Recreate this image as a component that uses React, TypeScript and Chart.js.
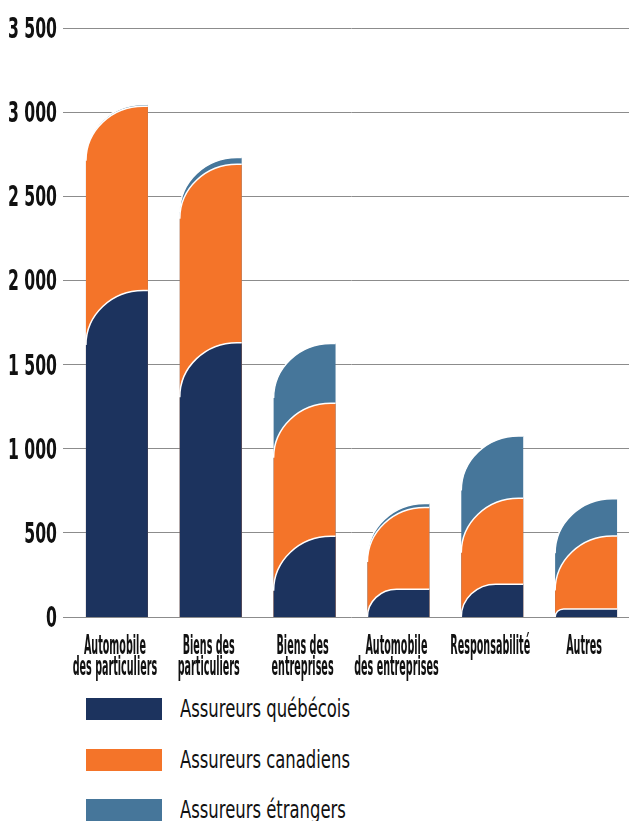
import React, { useEffect, useRef } from 'react';
import { Chart, registerables } from 'chart.js';

Chart.register(...registerables);

const categories: string[][] = [
  ['Automobile', 'des particuliers'],
  ['Biens des', 'particuliers'],
  ['Biens des', 'entreprises'],
  ['Automobile', 'des entreprises'],
  ['Responsabilité'],
  ['Autres'],
];
const quebecois = [1940, 1630, 480, 165, 195, 48];
const canadiens = [1095, 1060, 790, 485, 510, 433];
const etrangers = [10, 40, 355, 25, 370, 222];
const seriesNames = ['Assureurs québécois', 'Assureurs canadiens', 'Assureurs étrangers'];
const seriesColors = ['#1c335e', '#f47429', '#46769a'];
const yMin = 0;
const yMax = 3500;
const yStep = 500;

const FONT = '"DejaVu Sans Condensed", "DejaVu Sans", sans-serif';
const TEXT_COLOR = '#111111';

const fmt = (v: number) => String(v).replace(/\B(?=(\d{3})+(?!\d))/g, ' ');

// horizontal compression factors so the installed font mimics the condensed face
const measureCtx = typeof document !== 'undefined' ? document.createElement('canvas').getContext('2d') : null;
const fitScale = (font: string, sample: string, target: number) => {
  if (!measureCtx) return 0.7;
  measureCtx.font = font;
  const w = measureCtx.measureText(sample).width;
  return w > 0 ? target / w : 0.7;
};
const Y_FONT = `bold 28px ${FONT}`;
const X_FONT = `bold 26px ${FONT}`;
const LEGEND_FONT_SIZE = 24;
const LEGEND_WEIGHT = 'normal';
const Y_SX = fitScale(Y_FONT, '3 500', 49);
const X_SX = fitScale(X_FONT, 'Automobile', 62);
const LEGEND_SX = fitScale(`${LEGEND_WEIGHT} ${LEGEND_FONT_SIZE}px ${FONT}`, 'Assureurs québécois', 170);

const drawScaled = (ctx: CanvasRenderingContext2D, text: string, x: number, y: number, sx: number) => {
  ctx.save();
  ctx.translate(x, y);
  ctx.scale(sx, 1);
  ctx.fillText(text, 0, 0);
  ctx.restore();
};

const roundedTopLeft = {
  id: 'roundedTopLeft',
  beforeDatasetDraw(chart: any, args: any) {
    const { ctx } = chart;
    const meta = args.meta;
    const yScale = chart.scales.y;
    const base = yScale.getPixelForValue(0);
    const color = chart.data.datasets[args.index].backgroundColor;
    ctx.save();
    meta.data.forEach((el: any) => {
      const { x, y, width } = el.getProps(['x', 'y', 'width'], true);
      const left = x - width / 2;
      const right = x + width / 2;
      const h = base - y;
      if (h <= 0) return;
      const ry = Math.min(h, width * 0.88);
      const rx = Math.min(width, ry * 1.05);
      const path = () => {
        ctx.lineTo(left, y + ry);
        ctx.ellipse(left + rx, y + ry, rx, ry, 0, Math.PI, 1.5 * Math.PI);
        ctx.lineTo(right, y);
      };
      ctx.beginPath();
      ctx.moveTo(left, base);
      path();
      ctx.lineTo(right, base);
      ctx.closePath();
      ctx.fillStyle = color;
      ctx.fill();
      ctx.beginPath();
      ctx.moveTo(left, y + ry);
      path();
      ctx.strokeStyle = '#ffffff';
      ctx.lineWidth = 1.5;
      ctx.stroke();
    });
    ctx.restore();
    return false;
  },
};

const condensedLabels = {
  id: 'condensedLabels',
  afterDraw(chart: any) {
    const { ctx } = chart;
    const ys = chart.scales.y;
    const xs = chart.scales.x;
    ctx.save();
    ctx.fillStyle = TEXT_COLOR;
    ctx.textBaseline = 'alphabetic';
    // y tick labels
    ctx.font = Y_FONT;
    ctx.textAlign = 'right';
    ys.ticks.forEach((t: any) => {
      const py = ys.getPixelForValue(t.value);
      drawScaled(ctx, fmt(t.value), ys.right - 13, py + 10, Y_SX);
    });
    // category labels
    ctx.font = X_FONT;
    ctx.textAlign = 'center';
    const top = ys.getPixelForValue(0);
    categories.forEach((lines, i) => {
      const px = xs.getPixelForValue(i) - 2;
      lines.forEach((line, j) => {
        drawScaled(ctx, line, px, top + 36.5 + j * 21.5, X_SX);
      });
    });
    ctx.restore();
  },
};

export default function App() {
  const ref = useRef<HTMLCanvasElement | null>(null);

  useEffect(() => {
    if (!ref.current) return;
    const values = [quebecois, canadiens, etrangers];
    const chart = new Chart(ref.current, {
      type: 'bar',
      data: {
        labels: categories.map((c) => c.join(' ')),
        datasets: values.map((v, i) => ({
          label: seriesNames[i],
          data: v,
          backgroundColor: seriesColors[i],
          barPercentage: 0.66,
          categoryPercentage: 1,
        })),
      },
      plugins: [roundedTopLeft, condensedLabels],
      options: {
        animation: false,
        responsive: false,
        devicePixelRatio: 1,
        layout: { padding: { top: 28, right: 7, left: 0, bottom: 73 } },
        plugins: { legend: { display: false }, tooltip: { enabled: false } },
        scales: {
          x: { stacked: true, display: false },
          y: {
            stacked: true,
            min: yMin,
            max: yMax,
            border: { display: false },
            grid: { color: '#8c8c8c', lineWidth: 1, tickLength: 7, drawTicks: true },
            afterFit: (s: any) => {
              s.width = 70;
            },
            ticks: {
              display: false,
              stepSize: yStep,
            },
          },
        },
      } as any,
    });
    return () => chart.destroy();
  }, []);

  return (
    <div
      style={{
        position: 'absolute',
        left: 0,
        top: 0,
        width: 629,
        height: 821,
        overflow: 'hidden',
        background: '#ffffff',
      }}
    >
      <canvas ref={ref} width={640} height={690} style={{ display: 'block' }} />
      {seriesNames.map((name, i) => (
        <div
          key={name}
          style={{
            position: 'absolute',
            left: 86,
            top: 698 + 50.5 * i,
            height: 22,
            display: 'flex',
            alignItems: 'center',
          }}
        >
          <div style={{ width: 76, height: 22, background: seriesColors[i] }} />
          <span
            style={{
              display: 'inline-block',
              marginLeft: 18,
              fontFamily: FONT,
              fontSize: LEGEND_FONT_SIZE,
              fontWeight: LEGEND_WEIGHT,
              color: TEXT_COLOR,
              whiteSpace: 'nowrap',
              lineHeight: '22px',
              transform: `scaleX(${LEGEND_SX})`,
              transformOrigin: 'left center',
            }}
          >
            {name}
          </span>
        </div>
      ))}
    </div>
  );
}
